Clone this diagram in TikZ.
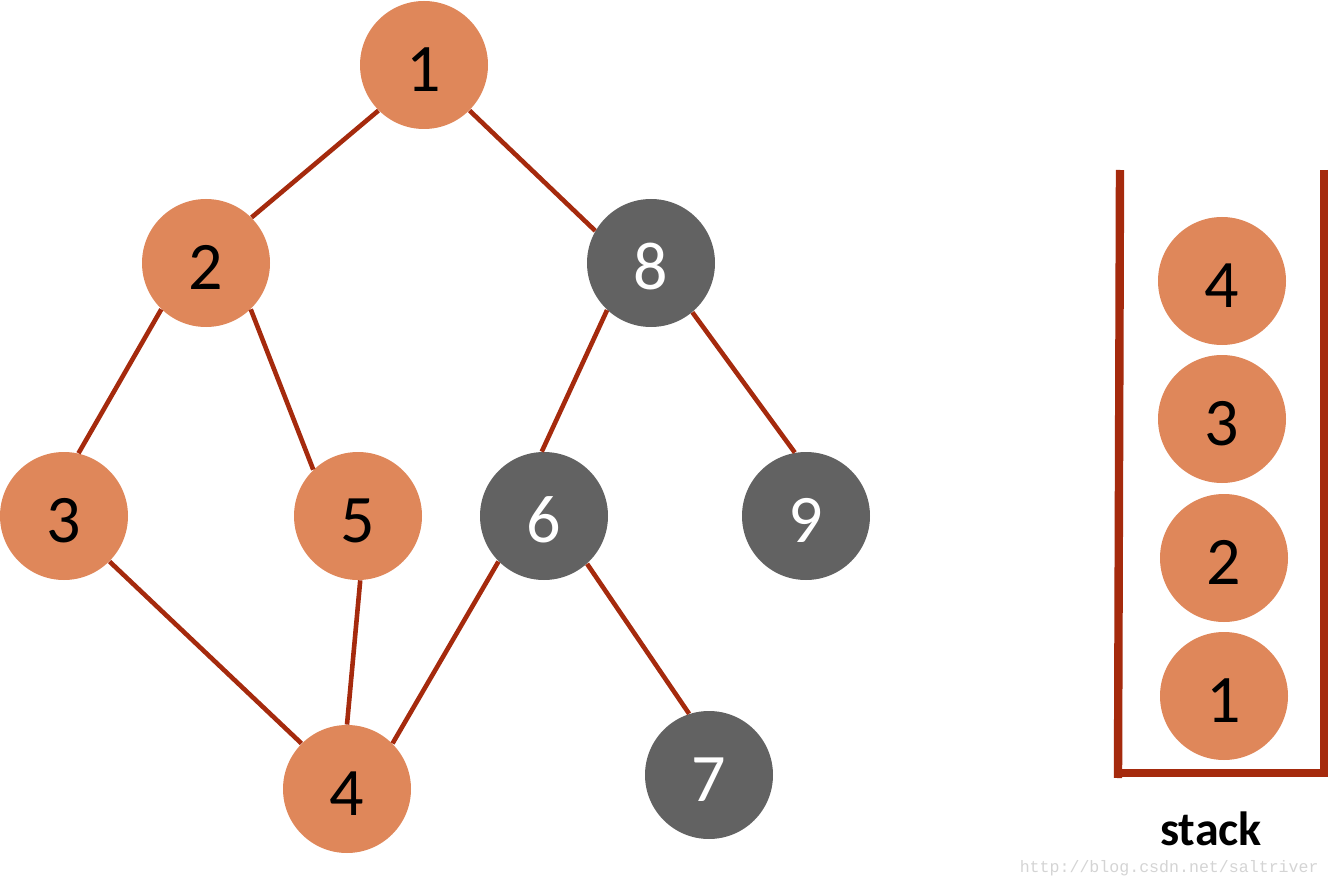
\documentclass[tikz,border=0pt]{standalone}
\usepackage{fontspec}
\setmainfont{Carlito}
\newfontfamily\wmfont{Liberation Mono}
\definecolor{nodeor}{HTML}{DF875A}
\definecolor{nodegr}{HTML}{626262}
\definecolor{edgec}{HTML}{A52A0D}
\definecolor{wmc}{HTML}{D4D4D4}
\begin{document}
\begin{tikzpicture}[x=0.5pt,y=-0.5pt,
  vtx/.style={circle,minimum size=64pt,inner sep=0pt,text height=26.5pt,text depth=0pt,font=\fontsize{34}{34}\selectfont},
  orv/.style={vtx,fill=nodeor,text=black},
  grv/.style={vtx,fill=nodegr,text=white},
  edge/.style={draw=edgec,line width=2.3pt},
  wall/.style={draw=edgec,line width=4.2pt}]
\useasboundingbox (0,0) rectangle (1330,888);
\node[orv] (n1) at (424,65) {1};
\node[orv] (n2) at (206,263) {2};
\node[grv] (n8) at (651,263) {8};
\node[orv] (n3) at (64,516) {3};
\node[orv] (n5) at (358,516) {5};
\node[grv] (n6) at (544,516) {6};
\node[grv] (n9) at (806,516) {9};
\node[orv] (n4) at (347,789) {4};
\node[grv] (n7) at (709,775) {7};
\draw[edge] (n1.225) -- (n2.45);
\draw[edge] (n1.315) -- (n8.150);
\draw[edge] (n2.226) -- (n3.77);
\draw[edge] (n2.314) -- (n5.134);
\draw[edge] (n8.227) -- (n6.92);
\draw[edge] (n8.310) -- (n9.100);
\draw[edge] (n3.315) -- (n4.135);
\draw[edge] (n5.272) -- (n4.90);
\draw[edge] (n6.225) -- (n4.45);
\draw[edge] (n6.312) -- (n7.108);
% stack
\coordinate (wtl) at (1120,170);
\coordinate (wbl) at (1118,778);
\coordinate (wtr) at (1324,170);
\coordinate (wbr) at (1324,776);
\coordinate (bl) at (1118,773);
\coordinate (br) at (1328,773);
\draw[wall] (wtl) -- (wbl);
\draw[wall] (wtr) -- (wbr);
\draw[wall] (bl) -- (br);
\node[orv] (s4) at (1222,281) {4};
\node[orv] (s3) at (1222,419) {3};
\node[orv] (s2) at (1224,558) {2};
\node[orv] (s1) at (1224,696) {1};
\node[font=\fontsize{24}{24}\selectfont\bfseries] (lbl) at (1211,829) {stack};
\node[font=\wmfont\fontsize{8.3}{8.3}\selectfont,text=wmc,anchor=east,inner sep=0pt] (wm) at (1319,868) {http://blog.csdn.net/saltriver};
\end{tikzpicture}
\end{document}
